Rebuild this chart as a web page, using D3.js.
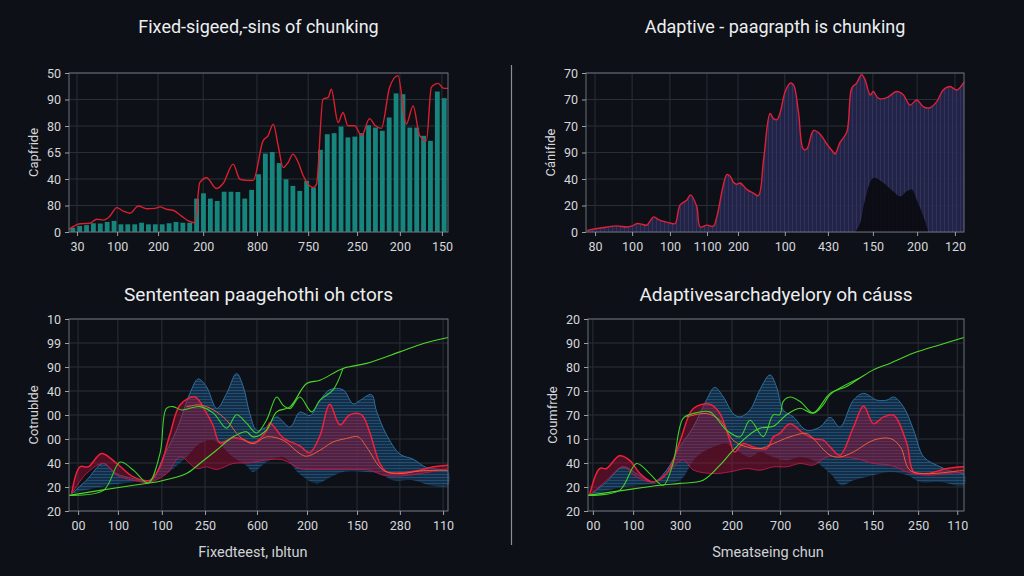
<html>
<head>
<meta charset="utf-8">
<script src="https://d3js.org/d3.v7.min.js"></script>
<style>
  body { margin: 0; background: #0d1016; }
  svg { display: block; }
  text { font-family: Roboto, "Open Sans", sans-serif; }
</style>
<title>chunking</title>
</head>
<body>
<script>
// ---- data ----
var titles = ["Fixed-sigeed,-sins of chunking", "Adaptive - paagrapth is chunking",
              "Sententean paagehothi oh ctors", "Adaptivesarchadyelory oh cáuss"];
var yTitles = ["Capfride", "Cánifıde", "Cotnublde", "Coumfrde"];
var xTitles = ["Fixedteest, ıbltun", "Smeatseing chun"];

// tick labels, bottom to top
var yLabels1 = ["0", "80", "40", "65", "80", "90", "50"];
var yLabels2 = ["0", "20", "40", "90", "70", "70", "70"];
var yLabels3 = ["20", "20", "40", "00", "00", "40", "90", "99", "10"];
var yLabels4 = ["20", "20", "40", "10", "70", "70", "80", "90", "20"];

var xLabels1 = ["30", "100", "200", "200", "800", "750", "250", "200", "150"];
var xTickPos1 = [2.1, 12.7, 23.5, 35.4, 49.6, 63.1, 76.0, 87.3, 98.4];
var xLabels2 = ["80", "100", "100", "1100", "200", "100", "430", "150", "200", "120"];
var xTickPos2 = [2.4, 12.2, 22.2, 32.0, 40.2, 52.6, 64.0, 75.9, 87.6, 97.6];
var xLabels3 = ["00", "100", "100", "250", "600", "200", "150", "280", "110"];
var xTickPos3 = [2.4, 12.9, 24.5, 35.9, 49.6, 62.8, 76.0, 87.3, 98.7];
var xLabels4 = ["00", "100", "300", "200", "700", "360", "150", "250", "110"];
var xTickPos4 = [1.3, 12.0, 24.5, 38.3, 51.1, 63.8, 75.8, 87.8, 98.2];

// panel 1: bars + red line
var bars1 = [1.6, 2.3, 2.6, 3.3, 3.2, 3.8, 4.2, 2.9, 2.9, 2.9, 3.5, 2.9, 2.9, 2.9, 3.3, 3.8, 3.5, 3.5,
             12.6, 14.6, 12.6, 11.7, 15.2, 15.2, 15.1, 12.6, 15.9, 21.8, 29.6, 30.2, 26.0, 19.9, 17.4,
             15.5, 19.3, 16.8, 31.0, 36.9, 37.3, 39.8, 35.7, 36.0, 37.3, 40.3, 39.4, 38.2, 43.2, 52.3,
             52.0, 39.4, 39.4, 36.3, 34.4, 53.0, 50.5];
var lineX1 = [0, 2.9, 5.5, 7.3, 9.1, 10.8, 12.6, 14.3, 16.1, 18.3, 20.5, 22.7, 24.0, 25.7, 27.5, 29.7,
              31.5, 33.2, 34.5, 36.3, 38.9, 40.7, 43.3, 45.1, 46.8, 48.6, 51.2, 52.5, 53.9, 55.2, 56.5,
              57.8, 59.1, 60.5, 61.8, 64.4, 65.3, 67.0, 68.4, 69.2, 71.0, 72.3, 73.6, 75.4, 77.2, 79.3,
              80.7, 82.4, 84.6, 86.8, 89.0, 90.8, 92.5, 94.3, 95.6, 97.4, 98.7, 100];
var lineY1 = [1.0, 3.1, 3.3, 4.8, 4.5, 6.0, 9.2, 7.9, 7.1, 9.8, 8.8, 8.9, 9.5, 8.6, 8.2, 6.0,
              4.2, 3.5, 18.6, 20.5, 16.4, 18.4, 25.6, 19.9, 19.5, 19.5, 34.4, 36.3, 40.7, 32.5, 24.3,
              26.2, 29.4, 26.2, 21.2, 16.8, 18.0, 50.1, 50.8, 53.9, 41.3, 45.1, 40.1, 40.1, 36.3, 42.8,
              40.3, 39.1, 54.6, 59.0, 40.7, 47.6, 36.5, 34.4, 54.6, 56.1, 54.3, 54.2];

// panel 2: filled area with red outline, plus dark inner shape
var areaX2 = [0.3, 2.9, 5.6, 8.2, 10.8, 12.2, 13.5, 14.8, 16.1, 17.9, 19.2, 21.0, 22.7, 23.6, 24.9,
              26.7, 27.6, 29.3, 30.2, 32.0, 33.7, 34.6, 37.3, 38.1, 39.0, 39.9, 40.8, 42.6, 44.3, 45.6,
              47.0, 48.7, 49.6, 50.5, 51.4, 52.7, 54.0, 54.9, 56.2, 57.5, 58.4, 60.2, 61.9, 63.7, 65.5,
              65.9, 67.2, 69.0, 70.3, 71.6, 72.9, 73.8, 75.2, 76.0, 77.4, 79.6, 82.2, 84.0, 85.7, 87.5,
              89.3, 91.0, 92.8, 94.5, 96.3, 98.1, 100];
var areaY2 = [0.6, 1.3, 1.9, 2.3, 1.9, 2.3, 3.2, 2.9, 2.6, 5.7, 4.7, 3.8, 3.2, 3.2, 10.2,
              12.1, 14.0, 9.6, 1.9, 2.6, 2.2, 5.7, 21.7, 21.1, 18.8, 18.0, 18.5, 16.0, 14.7, 13.7,
              27.5, 44.7, 42.8, 42.4, 45.3, 53.0, 56.2, 55.5, 45.3, 31.3, 31.3, 38.3, 37.0, 33.2, 30.0,
              29.4, 33.8, 37.7, 54.3, 56.2, 59.4, 57.5, 51.7, 53.0, 50.4, 50.7, 53.0, 51.7, 47.9, 49.8,
              47.2, 46.9, 49.2, 53.6, 54.9, 53.6, 56.6];
var darkX2 = [71.2, 72.5, 73.8, 76.0, 78.7, 81.3, 83.1, 84.8, 86.2, 87.5, 89.3, 90.6];
var darkY2 = [0, 3.2, 12.1, 20.4, 18.5, 15.3, 13.4, 15.3, 16.0, 12.1, 5.7, 0];

// panel 3: layered bands and lines
var blueUpX3 = [0.7, 4.6, 9.0, 12.5, 16.9, 21.4, 24.9, 28.4, 31.9, 34.1, 36.3, 39.0, 41.6, 44.2, 46.0,
                47.7, 49.5, 52.1, 54.8, 58.3, 60.9, 63.6, 66.2, 68.8, 72.3, 75.0, 76.7, 79.8, 81.1,
                83.7, 87.3, 90.8, 94.3, 97.8, 100];
var blueUpY3 = [7.2, 12.8, 19.8, 15.6, 13.5, 12.1, 22.5, 33.7, 49.0, 55.0, 51.7, 42.7, 49.0, 57.3, 51.7,
                40.6, 33.7, 35.0, 39.2, 35.0, 41.2, 39.8, 46.0, 50.5, 50.5, 44.6, 46.0, 48.5, 41.8,
                32.0, 23.7, 21.6, 18.1, 17.4, 16.7];
var blueLoX3 = [0.7, 8.2, 17.0, 22.3, 25.8, 31.0, 34.5, 38.1, 43.3, 46.8, 48.6, 52.1, 56.5, 60.9, 65.3,
                68.8, 72.3, 78.5, 82.0, 85.5, 90.8, 95.2, 100];
var blueLoY3 = [7.2, 10.0, 12.1, 12.8, 15.6, 22.5, 28.1, 29.5, 22.5, 19.0, 16.3, 20.4, 22.5, 15.3, 11.5,
                14.0, 16.3, 16.3, 15.6, 12.8, 12.8, 10.7, 10.7];
var redUpX3 = [0.7, 2.9, 5.1, 8.6, 12.6, 17.0, 21.4, 24.0, 26.7, 29.3, 33.2, 36.3, 38.1, 39.8, 43.3,
               45.9, 48.6, 52.1, 53.0, 56.5, 60.9, 63.5, 66.2, 68.8, 71.5, 74.1, 77.2, 79.4, 82.0,
               83.8, 87.3, 92.6, 96.1, 100];
var redUpY3 = [7.2, 18.4, 18.4, 24.0, 19.8, 14.2, 12.8, 18.4, 32.3, 44.2, 47.5, 40.8, 35.3, 28.4, 30.5,
               29.8, 28.4, 33.3, 36.7, 30.5, 27.1, 24.3, 31.3, 44.5, 35.9, 40.1, 40.1, 32.5, 19.8,
               16.3, 15.9, 17.0, 18.4, 19.1];
var redLoX3 = [0.7, 4.6, 9.0, 12.5, 16.9, 21.4, 25.8, 29.3, 33.7, 36.3, 39.0, 43.3, 47.7, 52.1, 56.5,
               60.9, 65.3, 69.7, 75.9, 79.4, 82.9, 87.3, 92.6, 100];
var redLoY3 = [7.2, 15.6, 19.8, 15.0, 12.8, 12.1, 15.6, 22.5, 17.7, 18.4, 17.3, 19.8, 20.1, 21.3, 21.3,
               17.7, 17.3, 17.3, 17.3, 17.0, 14.9, 14.6, 15.6, 17.7];
var orangeX3 = [31.0, 34.5, 38.1, 41.6, 45.1, 48.6, 52.1, 56.5, 60.9, 62.7, 66.2, 69.7, 73.2, 76.3,
                78.5, 82.9, 87.3, 92.6, 100];
var orangeY3 = [43.4, 44.2, 42.1, 37.8, 30.9, 28.1, 30.9, 29.5, 23.9, 22.8, 25.3, 28.8, 30.2, 30.9,
                26.7, 17.0, 15.6, 16.7, 17.0];
var greenAX3 = [0, 8.2, 17.0, 24.0, 31.0, 34.5, 38.9, 43.3, 46.8, 48.6, 52.1, 54.8, 58.3, 62.7, 66.2,
                72.3, 78.5, 87.3, 93.5, 100];
var greenAY3 = [6.5, 8.6, 10.7, 12.4, 15.6, 19.8, 25.3, 30.9, 33.0, 30.9, 33.7, 41.3, 43.4, 53.1, 54.5,
                59.4, 61.5, 66.3, 69.8, 72.3];
var greenBX3 = [0, 9.1, 13.5, 17.0, 20.9, 24.0, 25.7, 27.5, 29.7, 34.5, 38.1, 41.6, 44.2, 46.8, 49.5,
                52.1, 54.8, 56.5, 58.3, 60.9, 64.0, 66.2, 69.7, 72.3];
var greenBY3 = [6.5, 8.6, 20.4, 17.0, 11.7, 23.9, 42.8, 43.5, 42.1, 43.5, 40.8, 34.5, 40.1, 36.7, 32.5,
                37.8, 47.5, 44.0, 42.7, 47.5, 41.3, 46.2, 50.5, 59.4];

// panel 4
var blueUpX4 = [0.4, 4.9, 9.3, 12.9, 17.3, 20.9, 24.4, 28.0, 31.5, 33.7, 36.0, 38.6, 40.4, 43.1, 45.7,
                48.4, 50.1, 51.9, 54.6, 58.1, 61.7, 64.4, 67.0, 70.6, 73.3, 76.8, 79.5, 81.3, 83.9,
                86.6, 89.3, 93.7, 97.2, 100];
var blueUpY4 = [6.5, 12.1, 18.4, 15.6, 12.1, 17.0, 26.7, 35.0, 46.2, 51.5, 47.5, 40.6, 39.2, 42.1, 50.5,
                56.7, 51.9, 42.1, 39.2, 33.7, 35.0, 39.0, 35.0, 46.2, 49.0, 46.2, 46.2, 47.5, 43.4,
                33.7, 22.5, 18.4, 16.3, 15.6];
var blueLoX4 = [0.4, 9.3, 18.2, 24.4, 28.8, 33.3, 36.8, 39.5, 43.1, 45.7, 49.3, 52.8, 56.4, 59.9, 64.4,
                67.5, 70.6, 74.1, 80.4, 84.8, 88.4, 93.7, 100];
var blueLoY4 = [6.5, 10.0, 11.5, 12.8, 22.5, 26.7, 28.1, 25.3, 22.5, 24.6, 22.5, 21.1, 22.5, 21.1, 15.6,
                10.7, 12.8, 14.2, 16.3, 15.0, 12.1, 12.1, 10.7];
var redUpX4 = [0.4, 3.1, 4.9, 8.4, 11.1, 13.8, 17.3, 20.9, 24.4, 28.0, 32.4, 35.1, 37.7, 39.0, 41.3,
               43.9, 47.5, 49.3, 51.0, 53.7, 57.3, 59.9, 62.6, 64.4, 67.0, 70.6, 73.3, 75.9, 78.6,
               81.3, 84.8, 86.6, 90.2, 95.5, 100];
var redUpY4 = [6.5, 17.7, 17.7, 23.0, 21.1, 15.6, 12.1, 15.6, 28.8, 42.7, 44.5, 40.6, 29.5, 24.6, 28.1,
               26.7, 26.0, 30.9, 32.3, 36.4, 32.3, 30.2, 29.5, 26.7, 23.2, 35.0, 43.7, 36.4, 39.2,
               39.9, 28.1, 16.3, 15.6, 17.7, 18.4];
var redLoX4 = [0.4, 4.9, 9.3, 12.9, 17.3, 20.9, 25.3, 28.0, 33.3, 37.7, 42.2, 45.7, 49.3, 52.8, 56.4,
               59.9, 63.5, 67.0, 71.5, 75.9, 80.4, 85.6, 90.2, 95.5, 100];
var redLoY4 = [6.5, 12.8, 18.4, 14.2, 12.1, 15.6, 21.3, 17.1, 15.6, 16.3, 17.7, 17.0, 18.4, 18.4, 19.8,
               19.1, 22.5, 22.5, 21.8, 19.8, 19.1, 15.9, 14.9, 15.6, 16.3];
var orangeX4 = [26.2, 31.5, 35.1, 38.6, 42.2, 45.7, 49.3, 53.7, 58.1, 59.9, 64.4, 67.0, 70.6, 75.9,
                80.4, 83.1, 85.6, 90.2, 100];
var orangeY4 = [39.2, 40.6, 37.8, 29.5, 26.7, 26.0, 28.1, 30.9, 32.3, 30.2, 23.2, 22.5, 24.6, 29.5,
                30.2, 26.7, 17.0, 15.6, 17.0];
var greenAX4 = [0, 9.3, 19.1, 24.4, 30.6, 35.1, 38.2, 42.2, 45.7, 49.3, 52.8, 56.4, 59.9, 64.4, 68.8,
                72.3, 75.9, 80.4, 86.6, 93.7, 100];
var greenAY4 = [6.5, 8.6, 10.7, 11.5, 12.8, 19.1, 24.6, 30.9, 34.5, 35.3, 40.1, 42.8, 40.8, 49.0, 51.9,
                55.4, 58.8, 61.6, 65.8, 69.3, 72.3];
var greenBX4 = [0, 8.4, 12.9, 16.4, 20.0, 22.6, 25.3, 28.0, 32.4, 36.8, 40.4, 43.1, 46.6, 49.3, 51.0,
                51.9, 53.7, 56.4, 59.9, 62.6, 64.4, 72.3];
var greenBY4 = [6.5, 8.6, 19.8, 15.6, 10.7, 19.8, 38.6, 40.6, 41.3, 33.7, 30.9, 37.8, 31.0, 40.1, 40.1,
                45.6, 47.5, 45.6, 40.8, 44.3, 48.5, 55.4];

// ---- drawing ----
var W = 1024, H = 576;
var svg = d3.select("body").append("svg").attr("width", W).attr("height", H);
svg.append("rect").attr("width", W).attr("height", H).attr("fill", "#0d1016");

var defs = svg.append("defs");
var stripe = defs.append("pattern").attr("id", "stripes").attr("patternUnits", "userSpaceOnUse")
  .attr("width", 4).attr("height", 4);
stripe.append("rect").attr("width", 4).attr("height", 4).attr("fill", "#25264a");
stripe.append("rect").attr("width", 1).attr("height", 4).attr("fill", "#35366a");

var mesh = defs.append("pattern").attr("id", "mesh").attr("patternUnits", "userSpaceOnUse")
  .attr("width", 6).attr("height", 3);
mesh.append("rect").attr("width", 6).attr("height", 3).attr("fill", "#16375a");
mesh.append("rect").attr("width", 6).attr("height", 0.8).attr("fill", "#2a6b96");

var panels = [
  {l: 69, r: 448, t: 73, b: 232, ymax: 60, yl: yLabels1, xl: xLabels1, xp: xTickPos1},
  {l: 586, r: 964, t: 73, b: 232, ymax: 60, yl: yLabels2, xl: xLabels2, xp: xTickPos2},
  {l: 69, r: 448, t: 319, b: 511, ymax: 80, yl: yLabels3, xl: xLabels3, xp: xTickPos3},
  {l: 588, r: 964, t: 319, b: 511, ymax: 80, yl: yLabels4, xl: xLabels4, xp: xTickPos4}
];

function frame(p, i) {
  p.x = d3.scaleLinear().domain([0, 100]).range([p.l, p.r]);
  p.y = d3.scaleLinear().domain([0, p.ymax]).range([p.b, p.t]);
  var g = svg.append("g");
  var yt = d3.range(0, p.ymax + 1, 10);
  // grid
  g.selectAll(".hg").data(yt).enter().append("line")
    .attr("x1", p.l).attr("x2", p.r)
    .attr("y1", function(d) { return p.y(d); }).attr("y2", function(d) { return p.y(d); })
    .attr("stroke", "#2a2f37").attr("stroke-width", 1);
  g.selectAll(".vg").data(p.xp).enter().append("line")
    .attr("y1", p.t).attr("y2", p.b)
    .attr("x1", function(d) { return p.x(d); }).attr("x2", function(d) { return p.x(d); })
    .attr("stroke", "#2a2f37").attr("stroke-width", 1);
  p.g = svg.append("g");
  // axes drawn after marks
  p.finish = function() {
    var a = svg.append("g");
    a.append("rect").attr("x", p.l).attr("y", p.t).attr("width", p.r - p.l).attr("height", p.b - p.t)
      .attr("fill", "none").attr("stroke", "#6b7078").attr("stroke-width", 1);
    var ya = a.append("g").attr("transform", "translate(" + p.l + ",0)")
      .call(d3.axisLeft(p.y).tickValues(yt).tickSize(4).tickFormat(function(d, k) { return p.yl[k]; }));
    var xa = a.append("g").attr("transform", "translate(0," + p.b + ")")
      .call(d3.axisBottom(p.x).tickValues(p.xp).tickSize(4).tickFormat(function(d, k) { return p.xl[k]; }));
    [ya, xa].forEach(function(ax) {
      ax.select(".domain").remove();
      ax.selectAll("line").attr("stroke", "#9aa0a8");
      ax.selectAll("text").attr("fill", "#d6d8dc").style("font-size", "12.5px");
    });
    ya.selectAll("text").attr("x", -8);
    xa.selectAll("text").attr("y", 10);
    // titles
    a.append("text").attr("x", (p.l + p.r) / 2).attr("y", i < 2 ? 33 : 301)
      .attr("text-anchor", "middle").attr("fill", "#eceef0")
      .style("font-size", i < 2 ? "18px" : "19px").text(titles[i]);
    a.append("text")
      .attr("transform", "translate(" + (p.l - 31) + "," + ((p.t + p.b) / 2) + ") rotate(-90)")
      .attr("text-anchor", "middle").attr("fill", "#d6d8dc").style("font-size", "13px")
      .text(yTitles[i]);
  };
}
panels.forEach(frame);

function pts(xs, ys) { return xs.map(function(d, k) { return [d, ys[k]]; }); }
function band(xsU, ysU, xsL, ysL) {
  // polygon: upper path then lower path reversed
  var up = pts(xsU, ysU), lo = pts(xsL, ysL).reverse();
  return up.concat(lo);
}

// panel 1
(function() {
  var p = panels[0];
  var bx = d3.scaleBand().domain(d3.range(bars1.length)).range([p.l, p.r]).paddingInner(0.3).paddingOuter(0.2);
  p.g.selectAll("rect").data(bars1).enter().append("rect")
    .attr("x", function(d, k) { return bx(k); })
    .attr("width", bx.bandwidth())
    .attr("y", function(d) { return p.y(d); })
    .attr("height", function(d) { return p.b - p.y(d); })
    .attr("fill", "#16857d");
  var line = d3.line().x(function(d) { return p.x(d[0]); }).y(function(d) { return p.y(d[1]); })
    .curve(d3.curveMonotoneX);
  p.g.append("path").attr("d", line(pts(lineX1, lineY1)))
    .attr("fill", "none").attr("stroke", "#dc1f2e").attr("stroke-width", 1.4);
  p.finish();
})();

// panel 2
(function() {
  var p = panels[1];
  var area = d3.area().x(function(d) { return p.x(d[0]); }).y0(p.b).y1(function(d) { return p.y(d[1]); })
    .curve(d3.curveCatmullRom.alpha(0.5));
  var line = d3.line().x(function(d) { return p.x(d[0]); }).y(function(d) { return p.y(d[1]); })
    .curve(d3.curveCatmullRom.alpha(0.5));
  p.g.append("path").attr("d", area(pts(areaX2, areaY2))).attr("fill", "url(#stripes)").attr("opacity", 0.9);
  p.g.append("path").attr("d", area(pts(darkX2, darkY2))).attr("fill", "#07080c").attr("opacity", 0.85);
  p.g.append("path").attr("d", line(pts(areaX2, areaY2)))
    .attr("fill", "none").attr("stroke", "#e0203a").attr("stroke-width", 1.4);
  p.finish();
})();

// panels 3 and 4
function waves(p, bu, bl, ru, rl, oa, ga, gb) {
  var line = d3.line().x(function(d) { return p.x(d[0]); }).y(function(d) { return p.y(d[1]); })
    .curve(d3.curveCatmullRom.alpha(0.5));
  var closed = d3.line().x(function(d) { return p.x(d[0]); }).y(function(d) { return p.y(d[1]); })
    .curve(d3.curveCatmullRomClosed.alpha(0.5));
  p.g.append("path").attr("d", closed(band(bu[0], bu[1], bl[0], bl[1])))
    .attr("fill", "url(#mesh)").attr("opacity", 0.75);
  p.g.append("path").attr("d", line(pts(bu[0], bu[1])))
    .attr("fill", "none").attr("stroke", "#2f6f9c").attr("stroke-width", 1);
  p.g.append("path").attr("d", closed(band(ru[0], ru[1], rl[0], rl[1])))
    .attr("fill", "#a0123a").attr("opacity", 0.45);
  p.g.append("path").attr("d", line(pts(ru[0], ru[1])))
    .attr("fill", "none").attr("stroke", "#f0203a").attr("stroke-width", 1.5);
  p.g.append("path").attr("d", line(pts(rl[0], rl[1])))
    .attr("fill", "none").attr("stroke", "#c01848").attr("stroke-width", 0.9);
  p.g.append("path").attr("d", line(pts(oa[0], oa[1])))
    .attr("fill", "none").attr("stroke", "#e8603a").attr("stroke-width", 1);
  p.g.append("path").attr("d", line(pts(gb[0], gb[1])))
    .attr("fill", "none").attr("stroke", "#3fcf2a").attr("stroke-width", 1.1);
  p.g.append("path").attr("d", line(pts(ga[0], ga[1])))
    .attr("fill", "none").attr("stroke", "#4fd62a").attr("stroke-width", 1.1);
  p.finish();
}
waves(panels[2], [blueUpX3, blueUpY3], [blueLoX3, blueLoY3], [redUpX3, redUpY3], [redLoX3, redLoY3],
      [orangeX3, orangeY3], [greenAX3, greenAY3], [greenBX3, greenBY3]);
waves(panels[3], [blueUpX4, blueUpY4], [blueLoX4, blueLoY4], [redUpX4, redUpY4], [redLoX4, redLoY4],
      [orangeX4, orangeY4], [greenAX4, greenAY4], [greenBX4, greenBY4]);

// divider and bottom labels
svg.append("line").attr("x1", 511.5).attr("x2", 511.5).attr("y1", 65).attr("y2", 545)
  .attr("stroke", "#8a8f96").attr("stroke-width", 1.2);
svg.selectAll(".xt").data(xTitles).enter().append("text")
  .attr("x", function(d, k) { return k === 0 ? 253 : 768; }).attr("y", 557)
  .attr("text-anchor", "middle").attr("fill", "#d0d2d6").style("font-size", "14.5px")
  .text(function(d) { return d; });
</script>
</body>
</html>
